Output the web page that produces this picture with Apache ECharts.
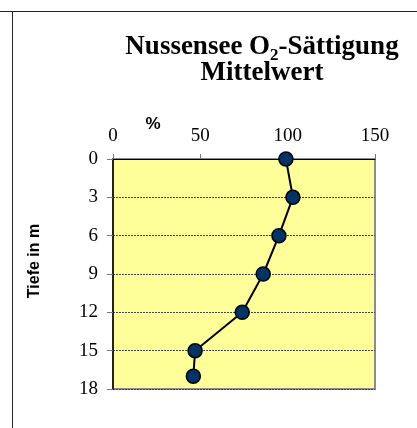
<!DOCTYPE html>
<html>
<head>
<meta charset="utf-8">
<script src="https://cdn.jsdelivr.net/npm/echarts@6/dist/echarts.min.js"></script>
<style>
  html, body { margin: 0; padding: 0; background: #fff; }
  #chart { width: 417px; height: 428px; }
</style>
</head>
<body>
<div id="chart"></div>
<script>
// Mean oxygen saturation profile of the Nussensee by depth
const depths = [0, 3, 6, 9, 12, 15, 17];           // Tiefe in m
const saturation = [99, 103, 95, 86, 74, 47, 46];   // O2-Sättigung in %
const xTicks = [0, 50, 100, 150];
const yTicks = [0, 3, 6, 9, 12, 15, 18];

const points = depths.map((d, i) => [saturation[i], d]);

const serif = '"Liberation Serif", "Times New Roman", serif';
const sans = '"Liberation Sans", Arial, sans-serif';

const chart = echarts.init(document.getElementById('chart'), null, { renderer: 'canvas' });

chart.setOption({
  animation: false,
  backgroundColor: '#ffffff',
  grid: {
    left: 113, top: 159, width: 262, height: 230,
    show: true,
    backgroundColor: '#FFFF99',
    borderColor: '#8c8c8c',
    borderWidth: 2
  },
  xAxis: {
    type: 'value',
    position: 'top',
    min: xTicks[0],
    max: xTicks[xTicks.length - 1],
    interval: xTicks[1] - xTicks[0],
    axisLine: { show: true, lineStyle: { color: '#000', width: 1 } },
    axisTick: { show: true, inside: false, length: 5, lineStyle: { color: '#777', width: 1 } },
    splitLine: { show: false },
    axisLabel: { color: '#000', fontFamily: serif, fontSize: 19, margin: 13 }
  },
  yAxis: {
    type: 'value',
    inverse: true,
    min: yTicks[0],
    max: yTicks[yTicks.length - 1],
    interval: yTicks[1] - yTicks[0],
    axisLine: { show: true, onZero: false, lineStyle: { color: '#000', width: 1.5 } },
    axisTick: { show: true, inside: false, length: 6, lineStyle: { color: '#777', width: 1 } },
    splitLine: { show: true, lineStyle: { color: '#444', width: 1, type: [2, 1] } },
    axisLabel: { color: '#000', fontFamily: serif, fontSize: 19, margin: 15 }
  },
  series: [{
    type: 'line',
    data: points,
    symbol: 'circle',
    symbolSize: 14,
    lineStyle: { color: '#000', width: 2 },
    itemStyle: { color: '#003366', borderColor: '#000', borderWidth: 1.5 },
    z: 5
  }],
  graphic: [
    // outer frame edges
    { type: 'line', shape: { x1: 0, y1: 11.5, x2: 417, y2: 11.5 }, style: { stroke: '#222', lineWidth: 1 }, silent: true },
    { type: 'line', shape: { x1: 12.5, y1: 11, x2: 12.5, y2: 428 }, style: { stroke: '#222', lineWidth: 1 }, silent: true },
    // title
    {
      type: 'text', x: 262, y: 47,
      style: {
        text: '{m|Nussensee O}{s|2}{m|-Sättigung}',
        align: 'center', verticalAlign: 'middle',
        rich: {
          m: { fontFamily: serif, fontWeight: 'bold', fontSize: 27, fill: '#000', lineHeight: 32 },
          s: { fontFamily: serif, fontWeight: 'bold', fontSize: 17, fill: '#000', lineHeight: 17, verticalAlign: 'top', padding: [16, 0, 0, 0] }
        }
      }
    },
    {
      type: 'text', x: 262, y: 73,
      style: {
        text: 'Mittelwert', align: 'center', verticalAlign: 'middle',
        font: 'bold 27px ' + serif, fill: '#000'
      }
    },
    // axis names
    {
      type: 'text', x: 153, y: 124,
      style: { text: '%', align: 'center', verticalAlign: 'middle', font: 'bold 17px ' + sans, fill: '#000' }
    },
    {
      type: 'text', x: 35, y: 261, rotation: Math.PI / 2,
      style: { text: 'Tiefe in m', align: 'center', verticalAlign: 'middle', font: 'bold 16px ' + sans, fill: '#000' }
    }
  ]
});
</script>
</body>
</html>
